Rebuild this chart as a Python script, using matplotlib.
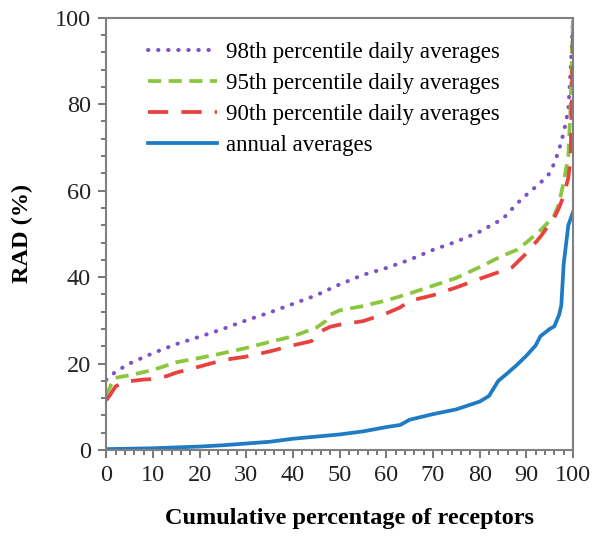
import numpy as np
import matplotlib
matplotlib.use("Agg")
import matplotlib.pyplot as plt
from matplotlib.ticker import MultipleLocator

plt.rcParams['font.family'] = ['Liberation Serif', 'DejaVu Serif']

# Data (cumulative % of receptors vs RAD %)
x_p98 = [0, 2, 5, 10, 15, 20, 25, 30, 35, 40, 45, 50, 55, 60, 65, 70, 75,
         80, 85, 88, 90, 93, 95, 96, 97, 98, 99, 99.5, 100]
y_p98 = [16.2, 18.1, 20, 22.4, 24.5, 26.2, 28, 30, 31.8, 33.8, 35.8, 38.3,
         40.5, 42.1, 44, 46.3, 48.2, 50.5, 53.5, 57, 59, 61.8, 64, 66.4,
         69.4, 73.4, 78.7, 88, 100]

x_p95 = [0, 1, 2, 5, 10, 15, 20, 25, 30, 35, 40, 45, 47, 48, 50, 55, 60, 65,
         70, 75, 80, 85, 88, 90, 93, 95, 96, 97, 98, 99, 99.5, 100]
y_p95 = [12.5, 15, 16.7, 17.3, 18.5, 20.3, 21.3, 22.4, 23.6, 25, 26.3, 28.3,
         29.8, 31.3, 32.3, 33.3, 34.6, 36.2, 38, 39.8, 42.3, 45, 46.3, 48,
         50.8, 53, 54.3, 57, 62, 68, 80, 100]

x_p90 = [0, 1, 2, 4, 8, 10, 13, 15, 20, 25, 30, 35, 40, 44, 46, 48, 50, 55,
         60, 63, 65, 70, 75, 80, 85, 87, 90, 93, 95, 96, 97, 98, 99, 99.5, 100]
y_p90 = [11.5, 13, 14.7, 15.8, 16.3, 16.4, 17.1, 17.9, 19.3, 20.8, 21.6,
         22.8, 24.2, 25.2, 27.5, 28.5, 29, 29.8, 31.6, 33, 34.5, 35.8, 37.6,
         39.6, 41.5, 42.3, 45.5, 49.3, 52.3, 53.8, 56, 58.8, 63, 68, 97]

x_ann = [0, 5, 10, 15, 20, 25, 30, 35, 40, 45, 50, 55, 60, 63, 65, 70, 75,
         80, 82, 84, 86, 88, 90, 92, 93, 95, 96, 97, 97.5, 98, 99, 100]
y_ann = [0.2, 0.3, 0.4, 0.6, 0.8, 1.1, 1.5, 1.9, 2.6, 3.1, 3.6, 4.3, 5.3,
         5.8, 7.0, 8.3, 9.4, 11.2, 12.5, 16, 17.8, 19.7, 21.8, 24.2, 26.3,
         28, 28.6, 31.2, 33.5, 43, 52, 55]

labels = ['98th percentile daily averages', '95th percentile daily averages',
          '90th percentile daily averages', 'annual averages']

fig = plt.figure(figsize=(6.0, 5.37), dpi=100, facecolor='white')
ax = fig.add_axes([0.177, 0.162, 0.778, 0.805])

ax.plot(x_p98, y_p98, color='#7b52c7', lw=2.9, linestyle=(0, (0.1, 2.4)),
        dash_capstyle='round', label=labels[0])
ax.plot(x_p95, y_p95, color='#8cc63f', lw=2.7, linestyle=(0, (3.5, 2.0)),
        label=labels[1])
ax.plot(x_p90, y_p90, color='#e8423f', lw=2.7, linestyle=(0, (5.4, 3.5)),
        label=labels[2])
ax.plot(x_ann, y_ann, color='#1f7bc4', lw=2.7, label=labels[3])

ax.set_xlim(0, 100)
ax.set_ylim(0, 100)
ax.xaxis.set_major_locator(MultipleLocator(10))
ax.xaxis.set_minor_locator(MultipleLocator(2))
ax.yaxis.set_major_locator(MultipleLocator(20))
ax.yaxis.set_minor_locator(MultipleLocator(4))

for s in ax.spines.values():
    s.set_color('#808080')
    s.set_linewidth(1.5)
ax.tick_params(which='both', direction='out', color='#606060', width=1.2,
               top=False, right=False)
ax.tick_params(which='major', length=6, labelsize=17.5, labelcolor='#222222',
               pad=5)
ax.tick_params(which='minor', length=3.5)

ax.set_xlabel('Cumulative percentage of receptors', fontsize=17.5,
              fontweight='bold')
ax.xaxis.set_label_coords(0.522, -0.135)
ax.set_ylabel('RAD (%)', fontsize=17.5, fontweight='bold', labelpad=16)

ax.legend(loc='upper left', bbox_to_anchor=(0.07, 0.965), frameon=False,
          fontsize=16.5, handlelength=3.0, handletextpad=0.4,
          labelspacing=0.43, borderaxespad=0)

plt.savefig('out.png', dpi=100)
